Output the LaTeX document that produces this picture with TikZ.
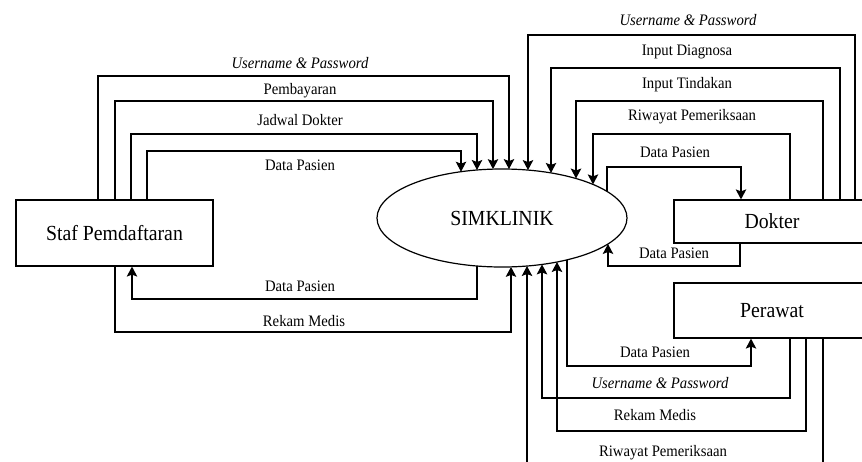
\documentclass[tikz,border=0pt]{standalone}
\usepackage{fontspec}
\setmainfont[FakeStretch=0.92]{Liberation Serif}
\usetikzlibrary{arrows.meta,calc,shapes.geometric}
\newcommand\simpt[2]{($(sim.center)+(#1,{#2*49*sqrt(1-((#1)/125)^2)})$)}
\begin{document}
\begin{tikzpicture}[x=1pt,y=-1pt,
  box/.style={draw,line width=1.2pt,inner sep=0pt,font=\rmfamily\fontsize{21.5}{24}\selectfont},
  ell/.style={ellipse,draw,line width=1.2pt,inner sep=0pt,font=\rmfamily\fontsize{21.5}{24}\selectfont},
  arr/.style={line width=1.2pt,-{Stealth[length=10pt,width=10.5pt,inset=2pt]}},
  lab/.style={inner sep=0pt,font=\rmfamily\fontsize{16}{19}\selectfont},
  ilab/.style={inner sep=0pt,font=\rmfamily\fontsize{16}{19}\selectfont\itshape}]
\useasboundingbox (0,0) rectangle (862,461);
\fill[white] (0,0) rectangle (862,461);
\clip (0,0) rectangle (862,461);

% nodes
\node[box,minimum width=197,minimum height=66] (staf) at (114.5,233) {Staf Pemdaftaran};
\node[ell,minimum width=250,minimum height=98] (sim) at (502,218) {SIMKLINIK};
\node[box,minimum width=196,minimum height=43] (dok) at (772,221.5) {Dokter};
\node[box,minimum width=196,minimum height=55] (per) at (772,310.5) {Perawat};

% Staf -> SIMKLINIK (top)
\draw[arr] (98,0 |- staf.north) |- (509,76) -- \simpt{7}{-1};
\draw[arr] (115,0 |- staf.north) |- (493,101) -- \simpt{-9}{-1};
\draw[arr] (131,0 |- staf.north) |- (477,134) -- \simpt{-25}{-1};
\draw[arr] (147,0 |- staf.north) |- (461,151) -- \simpt{-41}{-1};
% bottom left
\draw[arr] \simpt{-25}{1} |- (132,299) -- (132,0 |- staf.south);
\draw[arr] (115,0 |- staf.south) |- (511,332) -- \simpt{9}{1};

% Dokter -> SIMKLINIK (top)
\draw[arr] (855,0 |- dok.north) |- (528,35) -- \simpt{26}{-1};
\draw[arr] (840,0 |- dok.north) |- (551,68) -- \simpt{49}{-1};
\draw[arr] (823,0 |- dok.north) |- (576,101) -- \simpt{74}{-1};
\draw[arr] (790,0 |- dok.north) |- (593,134) -- \simpt{91}{-1};
\draw[arr] \simpt{105}{-1} |- (741,167) -- (741,0 |- dok.north);
\draw[arr] (740,0 |- dok.south) |- (608,266) -- \simpt{106}{1};

% Perawat
\draw[arr] \simpt{65}{1} |- (751,366) -- (751,0 |- per.south);
\draw[arr] (790,0 |- per.south) |- (542,398) -- \simpt{40}{1};
\draw[arr] (806,0 |- per.south) |- (557,431) -- \simpt{55}{1};
\draw[arr] (823,0 |- per.south) |- (527,478) -- \simpt{25}{1};

% labels
\node[ilab] (t1) at (300,63) {Username \& Password};
\node[lab] (t2) at (300,91) {Pembayaran};
\node[lab] (t3) at (300,120) {Jadwal Dokter};
\node[lab] (t4) at (300,165) {Data Pasien};
\node[lab] (t5) at (300,286) {Data Pasien};
\node[lab] (t6) at (304,321) {Rekam Medis};
\node[ilab] (t7) at (688,20) {Username \& Password};
\node[lab] (t8) at (687,52) {Input Diagnosa};
\node[lab] (t9) at (687,85) {Input Tindakan};
\node[lab] (t10) at (692,117) {Riwayat Pemeriksaan};
\node[lab] (t11) at (675,152) {Data Pasien};
\node[lab] (t12) at (674,253) {Data Pasien};
\node[lab] (t13) at (655,352) {Data Pasien};
\node[ilab] (t14) at (660,383) {Username \& Password};
\node[lab] (t15) at (655,415) {Rekam Medis};
\node[lab] (t16) at (663,453) {Riwayat Pemeriksaan};
\end{tikzpicture}
\end{document}
